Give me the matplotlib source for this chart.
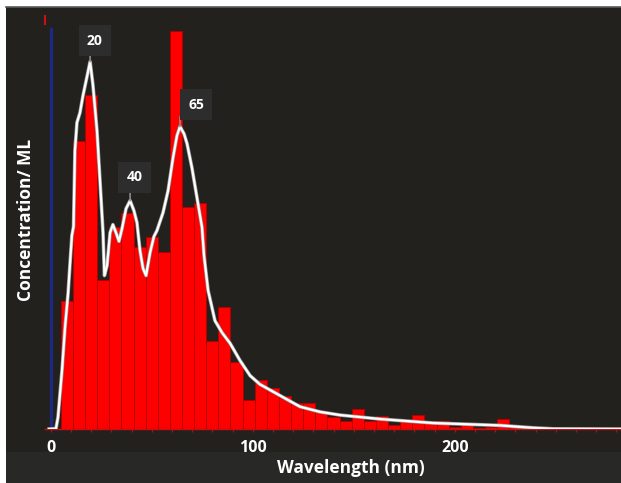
import numpy as np
import matplotlib
matplotlib.use("Agg")
import matplotlib.pyplot as plt
from matplotlib.patches import Rectangle

plt.rcParams['font.family'] = ['Open Sans', 'DejaVu Sans']
plt.rcParams['font.weight'] = 'bold'

# histogram (6 nm bins starting at 5 nm), relative concentration
bin_start = np.arange(5, 245, 6)
counts = [32.0, 72.4, 83.7, 37.3, 50.8, 54.3, 45.8, 48.1, 44.3, 100.0,
          55.6, 56.8, 22.0, 30.5, 16.9, 7.2, 12.4, 10.2, 8.2, 6.6,
          6.4, 4.4, 2.9, 2.1, 5.1, 2.1, 3.3, 0.9, 2.1, 3.6,
          2.1, 2.0, 0.4, 1.0, 0.3, 0.6, 2.6, 0.6, 0.3, 0.2]

# smoothed size distribution curve
curve_x = [-0.8, 2.6, 3.6, 5.6, 7.1, 8.6, 9.6, 10.5, 11.3, 12.0, 13.0, 14.5, 16.0, 18.0, 19.5,
           20.9, 22.9, 24.4, 25.9, 26.6, 27.9, 29.4, 30.8, 32.3, 33.8, 35.3, 37.3, 39.3,
           41.2, 42.7, 44.2, 45.7, 47.2, 49.2, 51.1, 52.6, 55.6, 58.1, 60.5, 62.5, 64.0,
           66.0, 67.5, 69.9, 72.4, 74.9, 75.9, 77.9, 81.3, 84.8, 88.8, 93.7, 98.7, 103.6,
           113.5, 123.4, 133.3, 143.2, 153.1, 163.0, 189.3, 222.4, 238.8, 248.7, 282.3]
curve_y = [0.0, 0.1, 2.9, 14.7, 25.5, 34.0, 41.8, 48.6, 50.8, 69.9, 76.9, 79.4, 83.7, 88.5, 92.2,
           86.4, 75.0, 62.4, 49.3, 38.5, 41.0, 49.3, 51.3, 49.3, 47.1, 50.3, 55.3, 57.3,
           54.8, 51.8, 44.8, 40.3, 38.5, 44.3, 48.3, 49.8, 54.3, 59.8, 67.9, 73.6, 75.9,
           74.1, 71.6, 65.6, 58.1, 50.6, 43.5, 34.8, 27.2, 24.2, 21.5, 17.2, 13.4, 11.2,
           8.4, 5.6, 4.3, 3.5, 3.0, 2.5, 1.5, 0.9, 0.3, 0.05, 0.0]

peak_labels = ["20", "40", "65"]
peak_x = [19.5, 39.3, 64.0]
peak_y = [92.2, 57.3, 75.9]
label_offsets = [(3.5, 15.1), (3.0, 16.8), (11.5, 15.8)]
stem_len = [7, 9, 7]

bg = '#23211e'
fig = plt.figure(figsize=(6.21, 4.83), dpi=100, facecolor='white')
W, H = 621, 483
fig.patches.append(Rectangle((6 / W, 0), 1, 476 / H, transform=fig.transFigure,
                             fc=bg, ec='none', zorder=-10))
fig.patches.append(Rectangle((6 / W, 0), 1, 31 / H, transform=fig.transFigure,
                             fc='#282826', ec='none', zorder=-9))
fig.lines.append(plt.Line2D([6 / W, 1], [476 / H, 476 / H], transform=fig.transFigure,
                            color='#5a5a5a', lw=1.2, zorder=-9))

ax = fig.add_axes([45 / W, (H - 429) / H, 576 / W, (429 - 15) / H])
ax.set_facecolor('none')
ax.set_xlim(-2.82, 282.3)
ax.set_ylim(0, 103.9)

ax.bar(bin_start, counts, width=6, align='edge', color='#ff0000',
       edgecolor='#b40000', linewidth=0.7, zorder=2)
ax.plot(curve_x, curve_y, color='#9a9a9a', lw=2.6, zorder=3)
ax.plot(curve_x, curve_y, color='white', lw=1.6, zorder=3)
ax.plot([0, 0], [0, 100.4], color='#1e2a80', lw=2.4, zorder=1)
ax.plot([-2.82, -2.82], [101.7, 103.6], color='#d01010', lw=1.5, clip_on=False)

for lab, px, py, off, sl in zip(peak_labels, peak_x, peak_y, label_offsets, stem_len):
    ax.annotate('', xy=(px, py), xytext=(0, sl), textcoords='offset points',
                arrowprops=dict(arrowstyle='-', color='#8c8c8c', lw=1.2,
                                shrinkA=0, shrinkB=0), zorder=4)
    ax.annotate(lab, xy=(px, py), xytext=off, textcoords='offset points',
                ha='center', va='center', color='white', fontsize=10, fontweight='bold',
                bbox=dict(boxstyle='square,pad=0.6', fc='#2d2d2d', ec='none'), zorder=5)

for s in ['left', 'right', 'top']:
    ax.spines[s].set_visible(False)
ax.spines['bottom'].set_color('#c81010')
ax.spines['bottom'].set_linewidth(1.0)
ax.set_yticks([])
ax.set_xticks([0, 100, 200])
ax.set_xticks(np.arange(0, 281, 10), minor=True)
ax.tick_params(axis='x', which='both', colors='#b01010', length=2.5, width=0.8,
               direction='out')
ax.tick_params(axis='x', which='major', labelcolor='white', labelsize=11.5, pad=5.5)
for t in ax.get_xticklabels():
    t.set_fontweight('bold')

fig.text(350.5 / W, (H - 468) / H, 'Wavelength (nm)', color='white', fontsize=12.5,
         fontweight='bold', ha='center', va='center')
fig.text(26 / W, (H - 219.5) / H, 'Concentration/ ML', color='white', fontsize=12.5,
         fontweight='bold', ha='center', va='center', rotation=90)

fig.savefig('out.png', dpi=100, facecolor=fig.get_facecolor())
